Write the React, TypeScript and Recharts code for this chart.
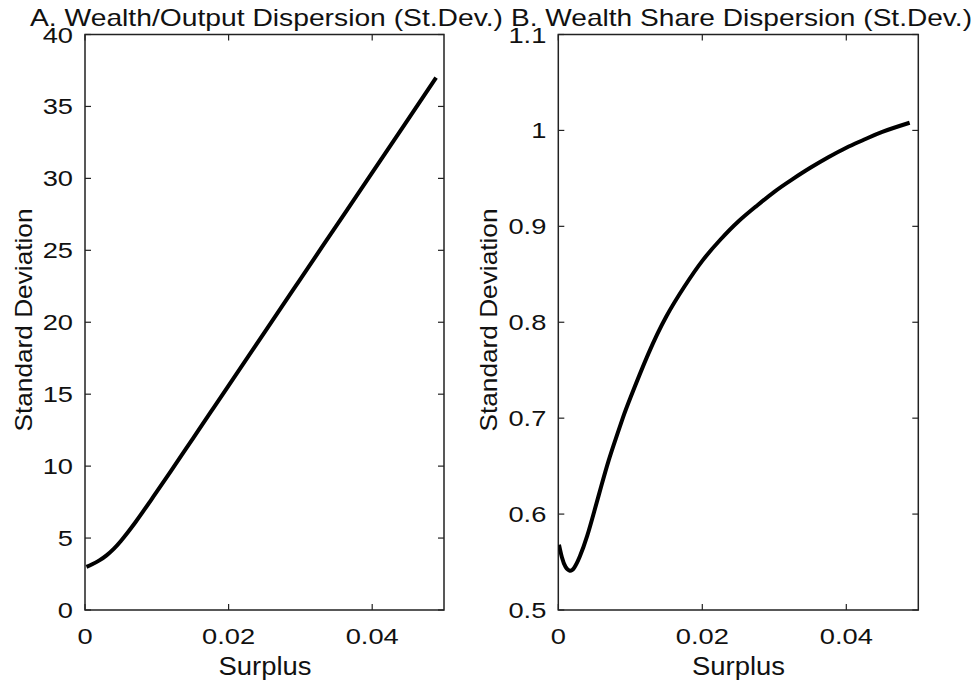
import { LineChart, Line, XAxis, YAxis, ReferenceArea } from 'recharts';

// Panel A: wealth/output dispersion
const A_SURPLUS = [0.0002, 0.001, 0.002, 0.003, 0.004, 0.005, 0.006, 0.007, 0.008, 0.009, 0.01, 0.0125, 0.015, 0.0175, 0.02, 0.025, 0.03, 0.035, 0.04, 0.045, 0.0489];
const A_STD = [3.0, 3.18, 3.45, 3.8, 4.25, 4.8, 5.42, 6.08, 6.78, 7.5, 8.22, 10.05, 11.9, 13.75, 15.6, 19.3, 23.0, 26.7, 30.4, 34.1, 37.0];
const A_Y_TICKS = [0, 5, 10, 15, 20, 25, 30, 35, 40];

// Panel B: wealth share dispersion
const B_SURPLUS = [0.0001, 0.0005, 0.001, 0.0016, 0.0022, 0.003, 0.004, 0.005, 0.006, 0.007, 0.008, 0.009, 0.01, 0.0125, 0.015, 0.0175, 0.02, 0.0225, 0.025, 0.0275, 0.03, 0.0325, 0.035, 0.0375, 0.04, 0.0425, 0.045, 0.0488];
const B_STD = [0.568, 0.555, 0.545, 0.541, 0.544, 0.556, 0.577, 0.603, 0.63, 0.656, 0.679, 0.701, 0.721, 0.767, 0.806, 0.837, 0.864, 0.886, 0.905, 0.921, 0.936, 0.949, 0.961, 0.972, 0.982, 0.9905, 0.9985, 1.008];
const B_Y_TICKS = [0.5, 0.6, 0.7, 0.8, 0.9, 1, 1.1];

const X_TICKS = [0, 0.02, 0.04];
const X_DOMAIN: [number, number] = [0, 0.05];

const FONT = '"Liberation Sans", Arial, Helvetica, sans-serif';
const INK = '#222';
const TOP = 34.5;
const H = 684;
const TICK = 6;
const SX = 1.24;
const TICK_FS = 22;

const toRows = (xs: number[], ys: number[]) => xs.map((s, i) => ({ s, v: ys[i] }));

function makeXTick(top: number) {
  return (p: any) => {
    const { x, y, payload } = p;
    return (
      <g>
        <line x1={x} x2={x} y1={y} y2={y - TICK} stroke={INK} strokeWidth={1.2} />
        <line x1={x} x2={x} y1={top} y2={top + TICK} stroke={INK} strokeWidth={1.2} />
        <text transform={`translate(${x},${y + 34}) scale(${SX},1)`} textAnchor="middle"
          fontSize={TICK_FS} fontFamily={FONT} fill="#111">{String(payload.value)}</text>
      </g>
    );
  };
}

function makeYTick(right: number) {
  return (p: any) => {
    const { x, y, payload } = p;
    return (
      <g>
        <line x1={x} x2={x + TICK} y1={y} y2={y} stroke={INK} strokeWidth={1.2} />
        <line x1={right} x2={right - TICK} y1={y} y2={y} stroke={INK} strokeWidth={1.2} />
        <text transform={`translate(${x - 12},${y + 8}) scale(${SX},1)`} textAnchor="end"
          fontSize={TICK_FS} fontFamily={FONT} fill="#111">{String(payload.value)}</text>
      </g>
    );
  };
}

interface PanelProps {
  left: number;
  width: number;
  margin: { top: number; right: number; bottom: number; left: number };
  rows: { s: number; v: number }[];
  yDomain: [number, number];
  yTicks: number[];
}

function Panel({ left, width, margin, rows, yDomain, yTicks }: PanelProps) {
  const right = width - margin.right;
  return (
    <div style={{ position: 'absolute', left, top: 0 }}>
      <LineChart width={width} height={H} data={rows} margin={margin}>
        <XAxis dataKey="s" type="number" domain={X_DOMAIN} ticks={X_TICKS} interval={0}
          allowDataOverflow axisLine={false} tickLine={false} tickSize={0} tickMargin={0}
          height={50} tick={makeXTick(margin.top)} />
        <YAxis type="number" domain={yDomain} ticks={yTicks} interval={0} allowDataOverflow
          axisLine={false} tickLine={false} tickSize={0} tickMargin={0} width={60}
          tick={makeYTick(right)} />
        <ReferenceArea x1={X_DOMAIN[0]} x2={X_DOMAIN[1]} y1={yDomain[0]} y2={yDomain[1]}
          fill="none" stroke={INK} strokeWidth={1.5} fillOpacity={0} ifOverflow="visible" />
        <Line type="natural" dataKey="v" stroke="#000" strokeWidth={4} dot={false}
          isAnimationActive={false} />
      </LineChart>
    </div>
  );
}

export default function App() {
  return (
    <div style={{ position: 'absolute', left: 0, top: 0, width: 975, height: H, background: '#fff' }}>
      <Panel left={0} width={480}
        margin={{ top: TOP, right: 36, bottom: 24, left: 25 }}
        rows={toRows(A_SURPLUS, A_STD)} yDomain={[0, 40]} yTicks={A_Y_TICKS} />
      <Panel left={480} width={495}
        margin={{ top: TOP, right: 56.7, bottom: 24, left: 18.3 }}
        rows={toRows(B_SURPLUS, B_STD)} yDomain={[0.5, 1.1]} yTicks={B_Y_TICKS} />
      <svg width={975} height={H} style={{ position: 'absolute', left: 0, top: 0, pointerEvents: 'none' }}
        fontFamily={FONT} fill="#111">
        <text x={30} y={26} fontSize={24} textLength={473} lengthAdjust="spacingAndGlyphs">
          A. Wealth/Output Dispersion (St.Dev.)
        </text>
        <text x={511} y={26} fontSize={24} textLength={461} lengthAdjust="spacingAndGlyphs">
          B. Wealth Share Dispersion (St.Dev.)
        </text>
        <text x={265} y={675} fontSize={25} textAnchor="middle" textLength={93} lengthAdjust="spacingAndGlyphs">
          Surplus
        </text>
        <text x={738.5} y={675} fontSize={25} textAnchor="middle" textLength={93} lengthAdjust="spacingAndGlyphs">
          Surplus
        </text>
        <text transform="translate(31.5,320) rotate(-90)" fontSize={24} textAnchor="middle"
          textLength={223} lengthAdjust="spacingAndGlyphs">Standard Deviation</text>
        <text transform="translate(497,320) rotate(-90)" fontSize={24} textAnchor="middle"
          textLength={223} lengthAdjust="spacingAndGlyphs">Standard Deviation</text>
      </svg>
    </div>
  );
}
